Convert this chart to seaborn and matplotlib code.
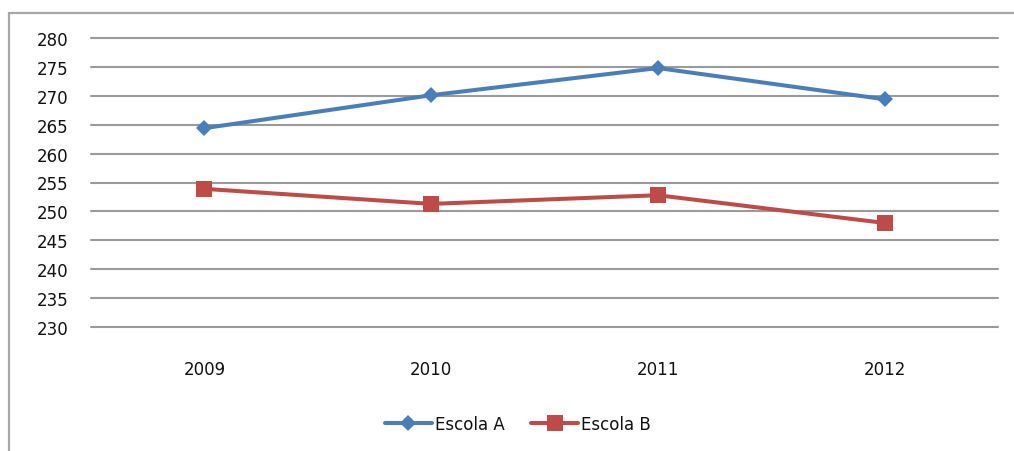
import matplotlib
matplotlib.use("Agg")
import matplotlib.pyplot as plt
from matplotlib.patches import Rectangle
import pandas as pd
import seaborn as sns

years = ["2009", "2010", "2011", "2012"]
escola_a = [264.4, 270.1, 274.8, 269.4]
escola_b = [253.9, 251.3, 252.8, 248.0]
y_ticks = [230, 235, 240, 245, 250, 255, 260, 265, 270, 275, 280]

sns.set_theme(style="white")
plt.rcParams["font.family"] = ["DejaVu Sans"]

df = pd.DataFrame({
    "Ano": years * 2,
    "Nota": escola_a + escola_b,
    "Escola": ["Escola A"] * len(years) + ["Escola B"] * len(years),
})

fig = plt.figure(figsize=(10.14, 4.52), dpi=100)
ax = fig.add_axes([91 / 1014, 1 - 328 / 452, (998 - 91) / 1014, (328 - 39) / 452])

# outer chart frame
fig.patches.append(Rectangle((9 / 1014, -0.1), 1.2, 1 - 14 / 452 + 0.1,
                             transform=fig.transFigure, fill=False,
                             edgecolor="#a6a6a6", linewidth=1.6, zorder=0))

styles = {
    "Escola A": dict(color="#4a7ebb", marker="D", markersize=8.6),
    "Escola B": dict(color="#be4b48", marker="s", markersize=12),
}
for name, st in styles.items():
    sub = df[df["Escola"] == name]
    sns.lineplot(data=sub, x="Ano", y="Nota", ax=ax, color=st["color"],
                 marker=st["marker"], markersize=st["markersize"],
                 markeredgewidth=0, linewidth=2.9, label=name,
                 sort=False, zorder=3)

ax.set_xlim(-0.5, 3.5)
ax.set_ylim(230, 280)
ax.set_yticks(y_ticks)
ax.set_yticklabels([str(t) for t in y_ticks])
ax.yaxis.grid(True, color="#9a9a9a", linewidth=1.5)
for gl in ax.get_ygridlines():
    gl.set_clip_on(False)
ax.xaxis.grid(False)
ax.set_axisbelow(True)
for s in ax.spines.values():
    s.set_visible(False)
ax.set_xlabel("")
ax.set_ylabel("")
ax.tick_params(axis="y", length=0, pad=16, labelsize=12, labelcolor="#111111")
ax.tick_params(axis="x", length=0, pad=24, labelsize=12, labelcolor="#111111")

ax.legend_.remove()
handles, labels = ax.get_legend_handles_labels()
fig.legend(handles, labels, loc="center", bbox_to_anchor=(518 / 1014, 1 - 425 / 452),
           ncol=2, frameon=False, fontsize=12, handlelength=2.8,
           handletextpad=0.2, columnspacing=1.6, labelcolor="#111111")

fig.savefig("out.png", dpi=100)
